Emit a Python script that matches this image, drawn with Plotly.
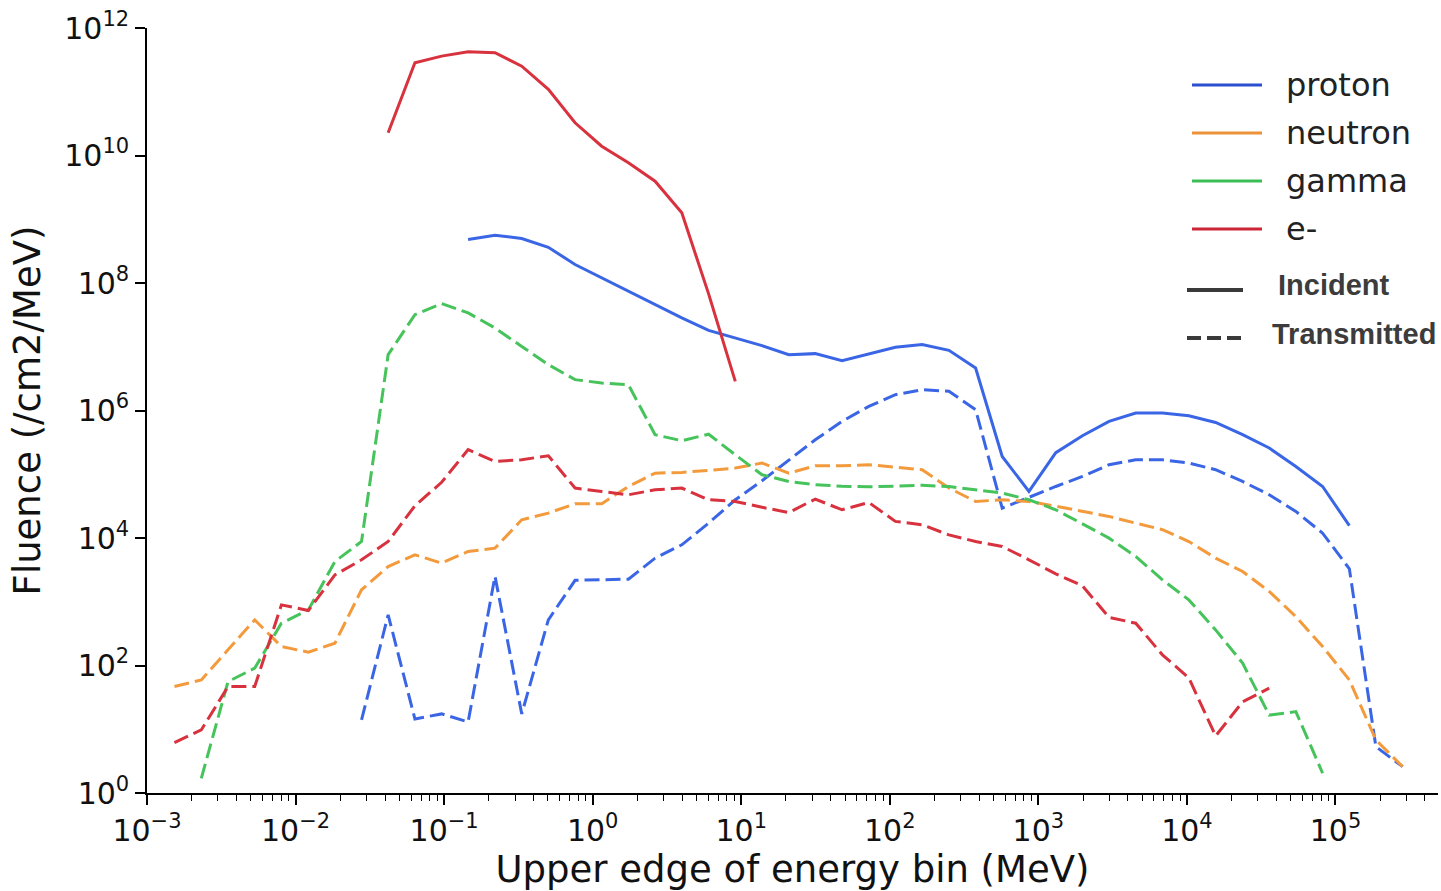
import plotly.graph_objects as go

# Upper edges of the energy bins (MeV)
ENERGY_MEV = [1.53e-3, 2.32e-3, 3.51e-3, 5.31e-3, 8.03e-3, 1.22e-2, 1.84e-2, 2.78e-2, 4.20e-2, 6.36e-2,
              9.62e-2, 0.145, 0.220, 0.333, 0.503, 0.761, 1.15, 1.74, 2.63, 3.98,
              6.03, 9.12, 13.8, 20.9, 31.5, 47.7, 72.2, 109, 165, 250,
              378, 571, 864, 1310, 1980, 2990, 4520, 6840, 1.03e4, 1.56e4,
              2.37e4, 3.58e4, 5.41e4, 8.19e4, 1.24e5, 1.87e5, 2.83e5]

# Fluence (/cm2/MeV), one value per bin, None where the spectrum is empty
PROTON_INCIDENT = [None] * 11 + [
    4.80e8, 5.61e8, 4.98e8, 3.63e8, 1.95e8, 1.20e8, 7.41e7, 4.58e7, 2.83e7, 1.81e7,
    1.37e7, 1.04e7, 7.52e6, 7.80e6, 6.05e6, 7.80e6, 9.79e6, 1.08e7, 8.79e6, 4.65e6,
    1.90e5, 5.37e4, 2.18e5, 4.02e5, 6.75e5, 9.14e5, 9.14e5, 8.28e5, 6.50e5, 4.17e5,
    2.58e5, 1.32e5, 6.43e4, 1.56e4] + [None] * 2

E_INCIDENT = [None] * 8 + [
    2.27e10, 2.85e11, 3.62e11, 4.25e11, 4.09e11, 2.52e11, 1.09e11, 3.26e10, 1.40e10, 7.67e9,
    3.95e9, 1.26e9, 6.76e7, 2.86e6] + [None] * 25

PROTON_TRANSMITTED = [None] * 7 + [
    14.0, 622, 14.5, 17.4, 13.0, 2510, 17.4, 520, 2170, 2210,
    2260, 4830, 7820, 1.71e4, 3.98e4, 7.91e4, 1.69e5, 3.48e5, 6.75e5, 1.16e6,
    1.77e6, 2.12e6, 2.00e6, 1.03e6, 2.94e4, 4.36e4, 6.43e4, 9.23e4, 1.41e5, 1.69e5,
    1.69e5, 1.50e5, 1.18e5, 7.71e4, 4.76e4, 2.61e4, 1.19e4, 3280, 5.33, 2.59]

NEUTRON_TRANSMITTED = [
    46.7, 59.4, 176, 520, 198, 162, 224, 1540, 3570, 5450,
    4040, 6140, 6930, 1.93e4, 2.46e4, 3.44e4, 3.44e4, 6.44e4, 1.04e5, 1.07e5,
    1.15e5, 1.25e5, 1.50e5, 1.04e5, 1.36e5, 1.36e5, 1.41e5, 1.30e5, 1.18e5, 6.07e4,
    3.74e4, 3.98e4, 3.74e4, 3.15e4, 2.61e4, 2.18e4, 1.71e4, 1.35e4, 8810, 4840,
    2980, 1450, 586, 198, 59.4, 6.79, 2.59]

GAMMA_TRANSMITTED = [None] + [
    1.70, 55.8, 90.8, 461, 746, 4280, 8810, 7.52e6, 3.19e7, 4.75e7,
    3.40e7, 1.97e7, 1.01e7, 5.24e6, 3.05e6, 2.70e6, 2.54e6, 4.17e5, 3.36e5, 4.25e5,
    2.02e5, 9.82e4, 7.71e4, 6.84e4, 6.49e4, 6.37e4, 6.49e4, 6.71e4, 6.43e4, 5.71e4,
    5.07e4, 3.98e4, 2.77e4, 1.67e4, 9950, 5130, 2210, 1070, 362, 109,
    16.7, 18.9, 2.04] + [None] * 3

E_TRANSMITTED = [
    6.17, 9.75, 46.7, 46.7, 893, 728, 2640, 4550, 8810, 3.20e4,
    7.48e4, 2.43e5, 1.59e5, 1.69e5, 1.95e5, 6.07e4, 5.37e4, 4.76e4, 5.71e4, 6.07e4,
    3.98e4, 3.74e4, 3.03e4, 2.51e4, 4.08e4, 2.77e4, 3.61e4, 1.82e4, 1.61e4, 1.12e4,
    8810, 7360, 4550, 2740, 1780, 569, 461, 147, 63.8, 7.85,
    26.9, 44.1] + [None] * 5

PARTICLES = ["proton", "neutron", "gamma", "e-"]

X_TICKS = [1e-3, 1e-2, 1e-1, 1e0, 1e1, 1e2, 1e3, 1e4, 1e5]
X_TICK_TEXT = ["10<sup>−3</sup>", "10<sup>−2</sup>", "10<sup>−1</sup>", "10<sup>0</sup>",
               "10<sup>1</sup>", "10<sup>2</sup>", "10<sup>3</sup>", "10<sup>4</sup>",
               "10<sup>5</sup>"]
Y_TICKS = [1e0, 1e2, 1e4, 1e6, 1e8, 1e10, 1e12]
Y_TICK_TEXT = ["10<sup>0</sup>", "10<sup>2</sup>", "10<sup>4</sup>", "10<sup>6</sup>",
               "10<sup>8</sup>", "10<sup>10</sup>", "10<sup>12</sup>"]

COLORS = {"proton": "#3a66e6", "neutron": "#f39a3c", "gamma": "#46c35a", "e-": "#d8323f"}
LEGEND_COLORS = {"proton": "#2a4fcf", "neutron": "#ec923a", "gamma": "#3cbd55", "e-": "#cc2535"}
DASH = "15px,6px"
FONT = "DejaVu Sans"

fig = go.Figure()

series = [
    ("proton", PROTON_INCIDENT, "solid"),
    ("e-", E_INCIDENT, "solid"),
    ("proton", PROTON_TRANSMITTED, DASH),
    ("neutron", NEUTRON_TRANSMITTED, DASH),
    ("gamma", GAMMA_TRANSMITTED, DASH),
    ("e-", E_TRANSMITTED, DASH),
]
for name, values, dash in series:
    fig.add_trace(go.Scatter(
        x=ENERGY_MEV, y=values, mode="lines", name=name, showlegend=False,
        connectgaps=False,
        line=dict(color=COLORS[name], width=3, dash=dash),
    ))

# Plot-area geometry in pixels, used to place the hand-built legend
L, R, T, B = 147, 1438, 28, 793


def px(x):
    return (x - L) / (R - L)


def py(y):
    return (B - y) / (B - T)


shapes = []
annotations = []
for i, name in enumerate(PARTICLES):
    yy = 85 + 48 * i
    shapes.append(dict(type="line", xref="paper", yref="paper",
                       x0=px(1192), x1=px(1262), y0=py(yy), y1=py(yy),
                       line=dict(color=LEGEND_COLORS[name], width=3)))
    annotations.append(dict(xref="paper", yref="paper", x=px(1284), y=py(yy),
                            xanchor="left", yanchor="middle", showarrow=False,
                            text=name, font=dict(family=FONT, size=32, color="#222222")))

shapes.append(dict(type="line", xref="paper", yref="paper",
                   x0=px(1187), x1=px(1243), y0=py(290), y1=py(290),
                   line=dict(color="#3a3a3a", width=4)))
shapes.append(dict(type="line", xref="paper", yref="paper",
                   x0=px(1187), x1=px(1243), y0=py(338), y1=py(338),
                   line=dict(color="#3a3a3a", width=4, dash="14px,6px")))
annotations.append(dict(xref="paper", yref="paper", x=px(1276), y=py(285),
                        xanchor="left", yanchor="middle", showarrow=False,
                        text="<b>Incident</b>",
                        font=dict(family="Liberation Sans", size=29, color="#3c3c3c")))
annotations.append(dict(xref="paper", yref="paper", x=px(1270), y=py(334),
                        xanchor="left", yanchor="middle", showarrow=False,
                        text="<b>Transmitted</b>",
                        font=dict(family="Liberation Sans", size=29, color="#3c3c3c")))

minor_x = [m * 10.0 ** d for d in range(-3, 6) for m in range(2, 10)]

axis_common = dict(
    showline=True, linecolor="#000000", linewidth=1.6, mirror=False,
    ticks="outside", ticklen=10, tickwidth=1.6, tickcolor="#000000",
    showgrid=False, zeroline=False, automargin=False,
    tickfont=dict(family=FONT, size=30, color="#111111"),
)

fig.update_layout(
    width=1441, height=891,
    margin=dict(l=L, r=1441 - R, t=T, b=891 - B),
    paper_bgcolor="white", plot_bgcolor="white",
    font=dict(family=FONT, color="#111111"),
    xaxis=dict(
        type="log", range=[-3, 5.69],
        tickmode="array", tickvals=X_TICKS, ticktext=X_TICK_TEXT,
        minor=dict(tickmode="array", tickvals=minor_x, ticks="outside", ticklen=6,
                   tickwidth=1.2, tickcolor="#000000", showgrid=False),
        title=dict(text="Upper edge of energy bin (MeV)",
                   font=dict(family=FONT, size=37, color="#111111"), standoff=10),
        **axis_common,
    ),
    yaxis=dict(
        type="log", range=[0, 12],
        tickmode="array", tickvals=Y_TICKS, ticktext=Y_TICK_TEXT,
        title=dict(text="Fluence (/cm2/MeV)",
                   font=dict(family=FONT, size=37, color="#111111"), standoff=12),
        **axis_common,
    ),
    shapes=shapes,
    annotations=annotations,
)

fig.write_html("out.html")
